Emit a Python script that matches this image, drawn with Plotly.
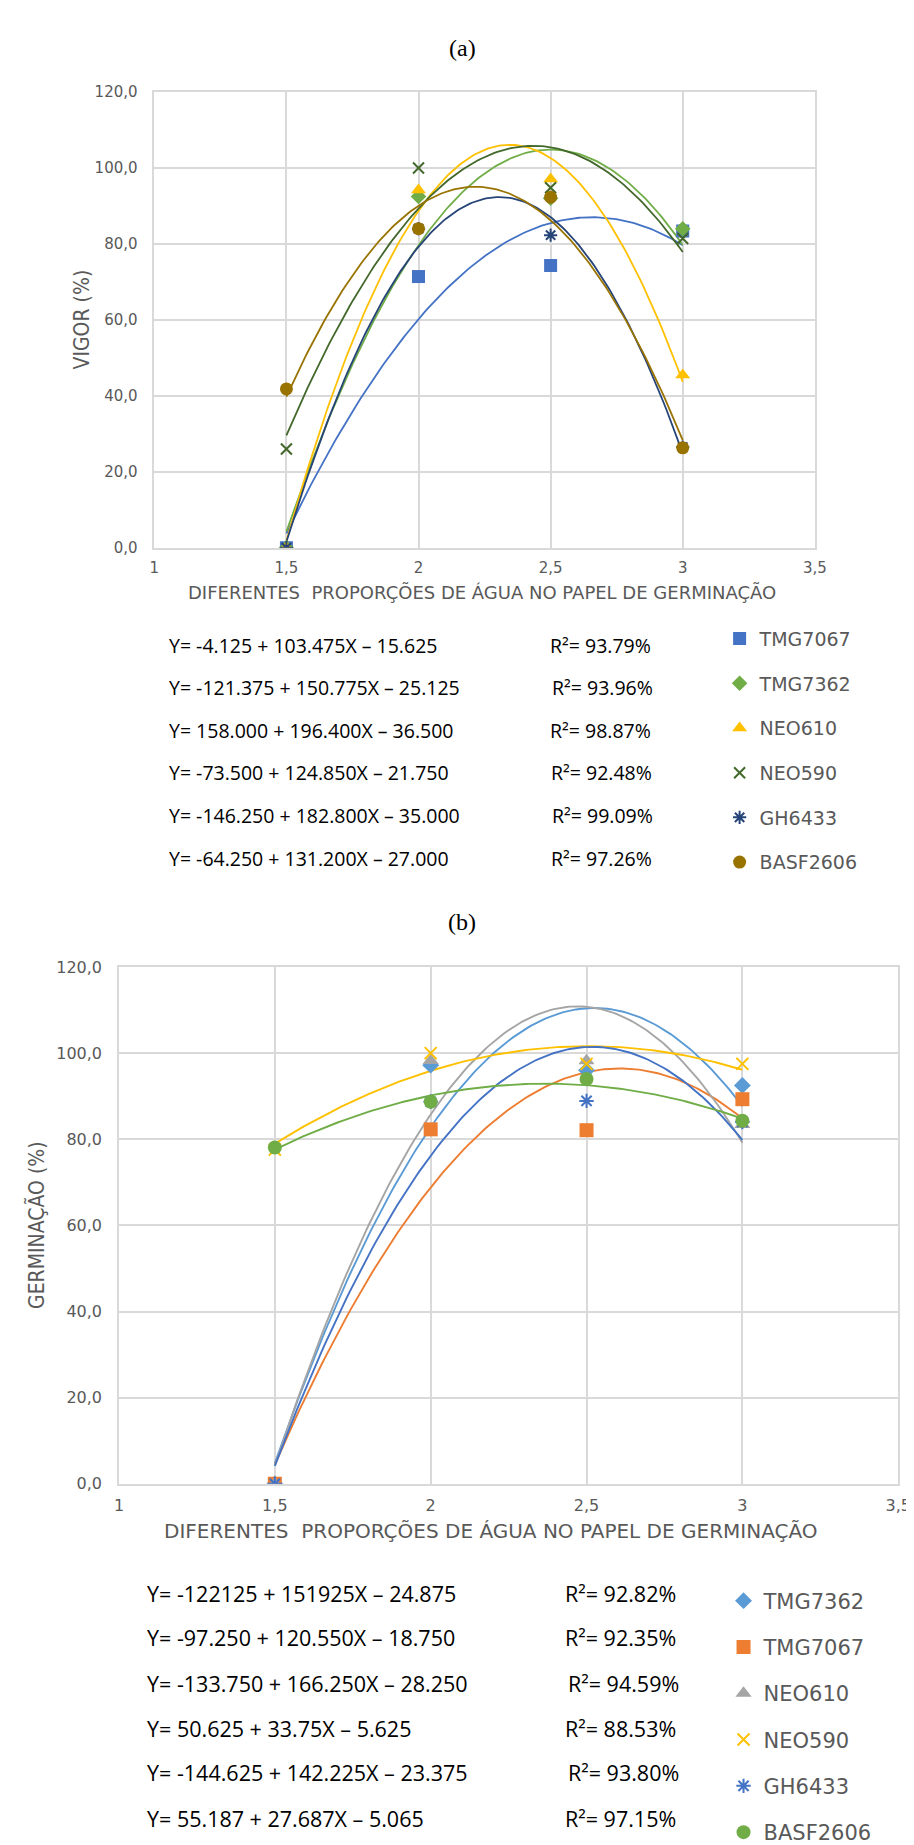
import numpy as np
import plotly.graph_objects as go

W, H = 914, 1845

# ---------------- data ----------------
x_vals = [1.5, 2.0, 2.5, 3.0]

# (a) VIGOR (%)
a_names = ["TMG7067", "TMG7362", "NEO610", "NEO590", "GH6433", "BASF2606"]
a_tmg7067 = [0.0, 71.4, 74.3, 83.4]
a_tmg7362 = [0.0, 92.5, 92.0, 84.0]
a_neo610 = [0.0, 94.2, 97.1, 45.5]
a_neo590 = [26.0, 100.0, 94.8, 81.4]
a_gh6433 = [0.0, 84.0, 82.3, 26.5]
a_basf2606 = [41.8, 84.0, 92.3, 26.3]
a_values = [a_tmg7067, a_tmg7362, a_neo610, a_neo590, a_gh6433, a_basf2606]
a_eqs = ["Y= -4.125 + 103.475X \u2013 15.625",
         "Y= -121.375 + 150.775X \u2013 25.125",
         "Y= 158.000 + 196.400X \u2013 36.500",
         "Y= -73.500 + 124.850X \u2013 21.750",
         "Y= -146.250 + 182.800X \u2013 35.000",
         "Y= -64.250 + 131.200X \u2013 27.000"]
a_r2 = ["R\u00b2= 93.79%", "R\u00b2= 93.96%", "R\u00b2= 98.87%",
        "R\u00b2= 92.48%", "R\u00b2= 99.09%", "R\u00b2= 97.26%"]

# (b) GERMINAÇÃO (%)
b_names = ["TMG7362", "TMG7067", "NEO610", "NEO590", "GH6433", "BASF2606"]
b_tmg7362 = [0.0, 97.2, 96.0, 92.5]
b_tmg7067 = [0.0, 82.3, 82.1, 89.3]
b_neo610 = [0.0, 98.3, 98.2, 83.4]
b_neo590 = [77.6, 100.0, 97.5, 97.5]
b_gh6433 = [0.0, 88.7, 88.9, 84.0]
b_basf2606 = [78.1, 88.7, 94.0, 84.3]
b_values = [b_tmg7362, b_tmg7067, b_neo610, b_neo590, b_gh6433, b_basf2606]
b_eqs = ["Y= -122125 + 151925X \u2013 24.875",
         "Y= -97.250 + 120.550X \u2013 18.750",
         "Y= -133.750 + 166.250X \u2013 28.250",
         "Y= 50.625 + 33.75X \u2013 5.625",
         "Y= -144.625 + 142.225X \u2013 23.375",
         "Y= 55.187 + 27.687X \u2013 5.065"]
b_r2 = ["R\u00b2= 92.82%", "R\u00b2= 92.35%", "R\u00b2= 94.59%",
        "R\u00b2= 88.53%", "R\u00b2= 93.80%", "R\u00b2= 97.15%"]

x_ticks = [1, 1.5, 2, 2.5, 3, 3.5]
x_tick_labels = ["1", "1,5", "2", "2,5", "3", "3,5"]
y_ticks = [0, 20, 40, 60, 80, 100, 120]
y_tick_labels = ["0,0", "20,0", "40,0", "60,0", "80,0", "100,0", "120,0"]

x_title = "DIFERENTES  PROPORÇÕES DE ÁGUA NO PAPEL DE GERMINAÇÃO"

# ---------------- styles ----------------
a_colors = ["#4472C4", "#70AD47", "#FFC000", "#43682B", "#264478", "#997300"]
b_colors = ["#5B9BD5", "#ED7D31", "#A5A5A5", "#FFC000", "#4472C4", "#70AD47"]
a_symbols = ["square", "diamond", "triangle-up", "x-thin-open", "asterisk-open", "circle"]
b_symbols = ["diamond", "square", "triangle-up", "x-thin-open", "asterisk-open", "circle"]
narrow = "Liberation Sans Narrow, DejaVu Sans Condensed, Arial Narrow, DejaVu Sans"


def px_x(p):
    return p / W


def px_y(p):
    return 1 - p / H


fig = go.Figure()


def add_panel(values, names, colors, symbols, xa, ya, legend, msize, lw):
    xs = np.linspace(min(x_vals), max(x_vals), 150)
    for vals, col in zip(values, colors):
        coef = np.polyfit(x_vals, vals, 2)
        fig.add_trace(go.Scatter(x=xs, y=np.polyval(coef, xs), mode="lines",
                                 line=dict(color=col, width=lw), xaxis=xa, yaxis=ya,
                                 showlegend=False, hoverinfo="skip"))
    for vals, name, col, sym in zip(values, names, colors, symbols):
        is_line = sym in ("x-thin-open", "asterisk-open")
        fig.add_trace(go.Scatter(
            x=x_vals, y=vals, mode="markers", name=name, xaxis=xa, yaxis=ya,
            legend=legend, legendgroup=legend + name,
            marker=dict(symbol=sym, color=col,
                        size=(msize - 2) if is_line else (msize - 1 if sym == "diamond" else msize),
                        line=dict(color=col, width=2 if is_line else 0))))


add_panel(a_values, a_names, a_colors, a_symbols, "x", "y", "legend", 13, 1.8)
add_panel(b_values, b_names, b_colors, b_symbols, "x2", "y2", "legend2", 14, 1.9)

grid = "#D9D9D9"
tick_col = "#595959"


def xaxis_cfg(dom, anchor, fsize):
    return dict(domain=dom, range=[1, 3.5], tickvals=x_ticks, ticktext=x_tick_labels,
                showgrid=True, gridcolor=grid, gridwidth=1.5, showline=True, linecolor=grid,
                linewidth=1.5, mirror=True, zeroline=False, ticks="", anchor=anchor,
                tickfont=dict(family="DejaVu Sans", size=fsize, color=tick_col),
                ticklabelstandoff=6)


def yaxis_cfg(dom, anchor, fsize):
    return dict(domain=dom, range=[0, 120], tickvals=y_ticks, ticktext=y_tick_labels,
                showgrid=True, gridcolor=grid, gridwidth=1.5, showline=True, linecolor=grid,
                linewidth=1.5, mirror=True, zeroline=False, ticks="", anchor=anchor,
                tickfont=dict(family="DejaVu Sans", size=fsize, color=tick_col),
                ticklabelstandoff=12)


annotations = []


def ann(text, x, y, size, family="DejaVu Sans", color="#595959", xanchor="center", angle=0):
    annotations.append(dict(text=text, x=px_x(x), y=px_y(y), xref="paper", yref="paper",
                            xanchor=xanchor, yanchor="middle", showarrow=False,
                            textangle=angle, font=dict(family=family, size=size, color=color)))


ann("(a)", 458, 31, 24, family="Liberation Serif", color="#000000")
ann("(b)", 458, 917, 24, family="Liberation Serif", color="#000000")
ann(x_title, 478, 583, 18)
ann(x_title, 487, 1535, 20)
ann("VIGOR (%)", 70, 307, 21, family=narrow, angle=-90)
ann("GERMINAÇÃO (%)", 24, 1225, 21, family=narrow, angle=-90)

a_eq_y = [637, 680, 723, 766, 809, 853]
a_r2_x = [545, 547, 545, 546, 547, 546]
for t, r, yy, rx in zip(a_eqs, a_r2, a_eq_y, a_r2_x):
    ann(t, 157, yy, 19.5, family="Open Sans", color="#000000", xanchor="left")
    ann(r, rx, yy, 19.5, family="Open Sans", color="#000000", xanchor="left")

b_eq_y = [1598, 1643, 1689, 1735, 1780, 1826]
b_r2_x = [560, 560, 563, 560, 563, 560]
for t, r, yy, rx in zip(b_eqs, b_r2, b_eq_y, b_r2_x):
    ann(t, 135, yy, 21.5, family="Open Sans", color="#000000", xanchor="left")
    ann(r, rx, yy, 21.5, family="Open Sans", color="#000000", xanchor="left")

fig.update_layout(
    width=W, height=H, margin=dict(l=0, r=0, t=0, b=0),
    paper_bgcolor="white", plot_bgcolor="white",
    xaxis=xaxis_cfg([px_x(144), px_x(817)], "y", 15),
    yaxis=yaxis_cfg([px_y(538), px_y(76)], "x", 15),
    xaxis2=xaxis_cfg([px_x(108), px_x(902)], "y2", 16),
    yaxis2=yaxis_cfg([px_y(1487), px_y(963)], "x2", 16),
    annotations=annotations,
    legend=dict(x=px_x(720), xanchor="left", y=px_y(611), yanchor="top",
                font=dict(family="DejaVu Sans", size=19, color="#595959"),
                tracegroupgap=17, bgcolor="rgba(0,0,0,0)", itemclick=False,
                itemdoubleclick=False),
    legend2=dict(x=px_x(724), xanchor="left", y=px_y(1585), yanchor="top",
                 font=dict(family="DejaVu Sans", size=21, color="#595959"),
                 tracegroupgap=16, bgcolor="rgba(0,0,0,0)", itemclick=False,
                 itemdoubleclick=False),
)

fig.write_html("out.html")
